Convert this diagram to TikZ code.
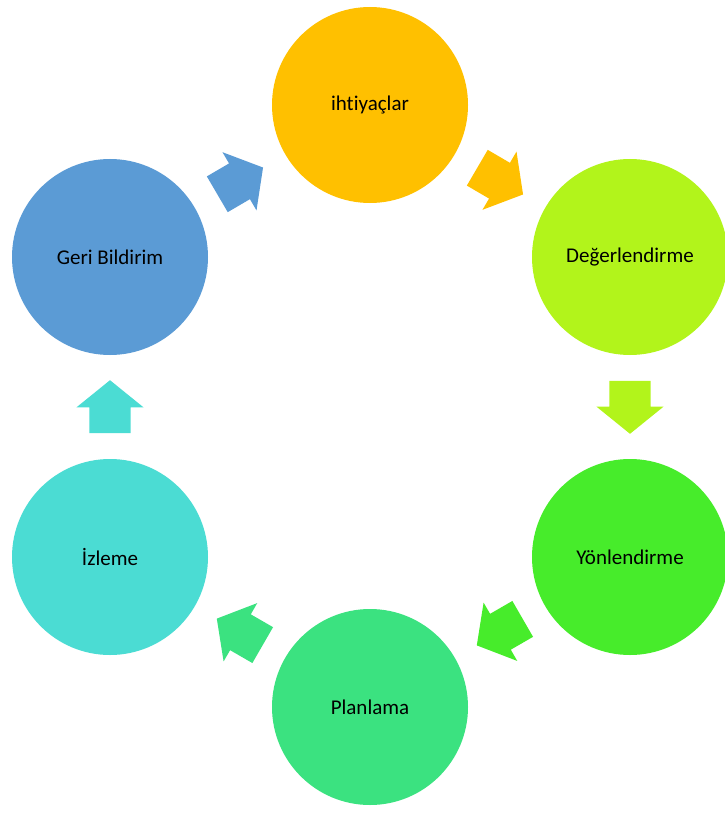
\documentclass[tikz,border=0pt]{standalone}
\usepackage{fontspec}
\setmainfont{Carlito}[Ligatures={NoCommon,NoContextual,NoRequired},Contextuals=NoAlternate]
\usetikzlibrary{shapes.arrows}

\definecolor{cIhtiyac}{HTML}{FFC000}
\definecolor{cDeger}{HTML}{B2F41B}
\definecolor{cYon}{HTML}{47EC2B}
\definecolor{cPlan}{HTML}{3BE280}
\definecolor{cIzleme}{HTML}{4BDCD3}
\definecolor{cGeri}{HTML}{5B9BD5}

\tikzset{
	stage/.style={circle,fill=#1,minimum size=196pt,inner sep=0pt,font=\fontsize{21}{25}\selectfont},
	flow/.style={single arrow,fill=#1,draw=none,inner xsep=0pt,inner ysep=20.5pt,
		minimum height=53pt,minimum width=67pt,single arrow head extend=13pt,
		single arrow tip angle=102,sloped,allow upside down,anchor=tail,pos=0.412}
}

\begin{document}
\begin{tikzpicture}[x=1pt,y=-1pt]
	\useasboundingbox (0,0) rectangle (724,813);
	% the six stages
	\node[stage=cIhtiyac] (ihtiyac) at (370,105) {iht\kern0pt iyaçlar};
	\node[stage=cDeger]   (deger)   at (630,257) {Değerlendirme};
	\node[stage=cYon]     (yon)     at (630,557) {Yönlendirme};
	\node[stage=cPlan]    (plan)    at (370,707) {Planlama};
	\node[stage=cIzleme]  (izleme)  at (110,557) {İzleme};
	\node[stage=cGeri]    (geri)    at (110,257) {Geri Bildirim};
	% block arrows between them
	\path (ihtiyac.center) -- node[flow=cIhtiyac] (a1) {} (deger.center);
	\path (deger.center)   -- node[flow=cDeger]   (a2) {} (yon.center);
	\path (yon.center)     -- node[flow=cYon]     (a3) {} (plan.center);
	\path (plan.center)    -- node[flow=cPlan]    (a4) {} (izleme.center);
	\path (izleme.center)  -- node[flow=cIzleme]  (a5) {} (geri.center);
	\path (geri.center)    -- node[flow=cGeri]    (a6) {} (ihtiyac.center);
\end{tikzpicture}
\end{document}
